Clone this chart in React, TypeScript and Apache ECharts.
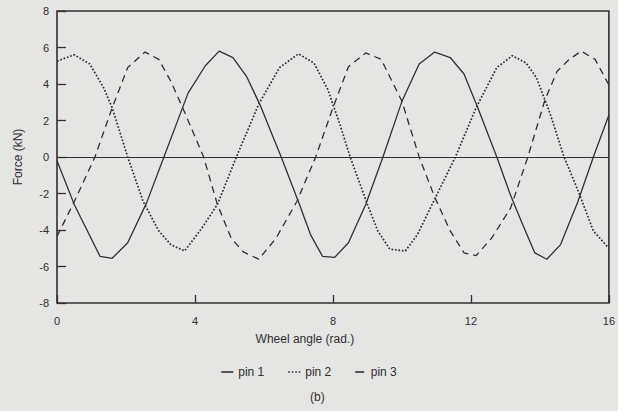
import React, { useEffect, useRef } from "react";
import * as echarts from "echarts";

// Force on each pin versus wheel angle, as [angle (rad), force (kN)] vertices
const pin1: [number, number][] = [
  [0, -0.2], [0.5, -2.6], [1.25, -5.45], [1.6, -5.55], [2.05, -4.7], [2.6, -2.5],
  [3.1, 0], [3.8, 3.5], [4.3, 5.0], [4.7, 5.8], [5.1, 5.45], [5.5, 4.4], [5.9, 2.8],
  [6.5, 0], [7.0, -2.45], [7.35, -4.25], [7.7, -5.45], [8.05, -5.5], [8.45, -4.7],
  [8.95, -2.6], [9.45, 0], [10.0, 3.05], [10.5, 5.1], [10.95, 5.75], [11.4, 5.45],
  [11.8, 4.55], [12.2, 2.7], [12.75, 0], [13.15, -2.1], [13.5, -3.7], [13.85, -5.25],
  [14.2, -5.6], [14.6, -4.8], [15.1, -2.45], [15.55, 0], [16, 2.3],
];

const pin2: [number, number][] = [
  [0, 5.25], [0.5, 5.6], [0.95, 5.1], [1.35, 3.8], [1.6, 2.7], [2.05, 0], [2.5, -2.45],
  [2.95, -4.05], [3.3, -4.8], [3.7, -5.15], [4.2, -3.9], [4.65, -2.6], [5.2, 0],
  [5.85, 2.9], [6.45, 4.9], [7.0, 5.65], [7.45, 5.15], [7.85, 3.7], [8.2, 1.8],
  [8.5, 0], [9.0, -2.6], [9.3, -4.05], [9.65, -5.05], [10.1, -5.15], [10.45, -4.25],
  [10.9, -2.5], [11.55, 0], [12.15, 2.7], [12.75, 4.9], [13.2, 5.55], [13.6, 5.15],
  [13.9, 4.35], [14.3, 2.35], [14.7, 0], [15.15, -2.05], [15.55, -4.05], [15.95, -4.9],
];

const pin3: [number, number][] = [
  [0, -4.35], [0.5, -2.45], [1.1, 0], [1.6, 2.7], [2.05, 4.9], [2.55, 5.75], [2.95, 5.35],
  [3.3, 4.15], [3.7, 2.45], [4.25, 0], [4.65, -2.6], [5.05, -4.45], [5.4, -5.2],
  [5.85, -5.6], [6.35, -4.45], [6.95, -2.45], [7.5, 0], [8.0, 2.7], [8.45, 4.95],
  [8.95, 5.7], [9.4, 5.35], [10.0, 3.05], [10.5, 0], [10.95, -2.2], [11.4, -4.05],
  [11.8, -5.25], [12.15, -5.4], [12.6, -4.45], [13.15, -2.8], [13.65, 0], [14.15, 3.15],
  [14.5, 4.7], [14.85, 5.35], [15.2, 5.8], [15.6, 5.35], [16, 3.95],
];

const seriesNames = ["pin 1", "pin 2", "pin 3"];
const xTicks = { min: 0, max: 16, interval: 4 };
const yTicks = { min: -8, max: 8, interval: 2 };

const INK = "#303030";
const FONT = "Liberation Sans, Arial, Helvetica, sans-serif";

// legend keys: a solid bar, a row of dots, a short dash
const legendIcons = [
  "path://M0,0h12v1.6h-12z",
  "path://M0,0h1.6v1.6h-1.6z M3.5,0h1.6v1.6h-1.6z M7,0h1.6v1.6h-1.6z M10.4,0h1.6v1.6h-1.6z",
  "path://M0,0h9v1.6h-9z",
];

export default function App() {
  const ref = useRef<HTMLDivElement>(null);

  useEffect(() => {
    if (!ref.current) return;
    const chart = echarts.init(ref.current, undefined, { renderer: "svg" });

    const lineSeries = (name: string, data: [number, number][], type: any, width: number) => ({
      name,
      type: "line",
      data,
      showSymbol: false,
      symbol: "none",
      silent: true,
      lineStyle: { color: INK, width, type },
      itemStyle: { color: INK },
    });

    const s1: any = lineSeries(seriesNames[0], pin1, "solid", 1.3);
    // zero reference line across the plot
    s1.markLine = {
      silent: true,
      symbol: "none",
      label: { show: false },
      lineStyle: { color: INK, width: 1, type: "solid" },
      data: [{ yAxis: 0 }],
    };

    chart.setOption({
      animation: false,
      backgroundColor: "#e5e5e3",
      textStyle: { fontFamily: FONT, color: INK },
      title: {
        text: "(b)",
        left: 310,
        top: 391,
        padding: 0,
        textStyle: { fontSize: 12, fontWeight: "normal", color: INK, fontFamily: FONT },
      },
      legend: {
        data: seriesNames.map((name, i) => ({ name, icon: legendIcons[i] })),
        left: "center",
        top: 366,
        padding: 0,
        itemWidth: 12,
        itemHeight: 1.6,
        itemGap: 24,
        itemStyle: { color: INK, borderWidth: 0 },
        textStyle: { fontSize: 12, color: INK, fontFamily: FONT },
      },
      grid: {
        left: 57,
        right: 8,
        top: 11,
        bottom: 108,
        show: true,
        borderColor: INK,
        borderWidth: 1.6,
        backgroundColor: "transparent",
      },
      xAxis: {
        type: "value",
        ...xTicks,
        axisLine: { show: false, onZero: false },
        axisTick: { inside: true, length: 8, lineStyle: { color: INK, width: 1.3 } },
        splitLine: { show: false },
        axisLabel: { margin: 12, fontSize: 11, color: INK, fontFamily: FONT },
        name: "Wheel angle (rad.)",
        nameLocation: "middle",
        nameGap: 30,
        nameTextStyle: { fontSize: 12, color: INK, fontFamily: FONT, padding: [0, 56, 0, 0] },
      },
      yAxis: {
        type: "value",
        ...yTicks,
        axisLine: { show: false, onZero: false },
        axisTick: { inside: true, length: 9, lineStyle: { color: INK, width: 1.3 } },
        splitLine: { show: false },
        axisLabel: { margin: 8, fontSize: 11, color: INK, fontFamily: FONT },
        name: "Force (kN)",
        nameLocation: "middle",
        nameRotate: 90,
        nameGap: 33,
        nameTextStyle: { fontSize: 12, color: INK, fontFamily: FONT },
      },
      series: [
        s1,
        lineSeries(seriesNames[1], pin2, [1.7, 1.8], 1.7),
        lineSeries(seriesNames[2], pin3, [7, 5], 1.3),
      ],
    });

    return () => chart.dispose();
  }, []);

  return (
    <div
      ref={ref}
      style={{ position: "fixed", left: 0, top: 0, width: 618, height: 411 }}
    />
  );
}
